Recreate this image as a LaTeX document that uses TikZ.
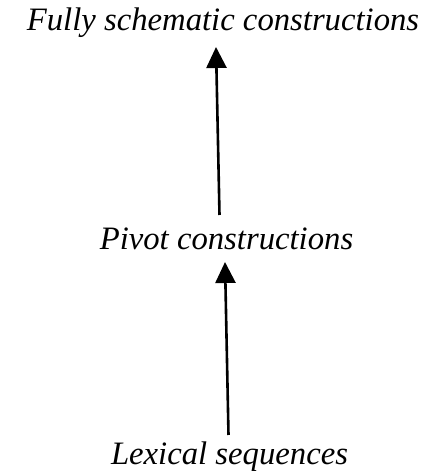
\documentclass[tikz,border=0pt]{standalone}
\usepackage{fontspec}
\setmainfont{Liberation Serif}
\usetikzlibrary{arrows.meta}
\begin{document}
\begin{tikzpicture}[x=1pt,y=1pt,
  lbl/.style={anchor=base,inner sep=0pt,font=\fontsize{32.7}{36}\selectfont\itshape},
  uparrow/.style={line width=2.6pt,-{Triangle[length=21pt,width=20pt]}}]
\useasboundingbox (0,0) rectangle (434,471);
\node[lbl] (full) at (223,440) {Fully schematic constructions};
\node[lbl] (pivot) at (226.5,221) {Pivot constructions};
\node[lbl] (lex) at (229.5,6) {Lexical sequences};
\coordinate (a1s) at (219.5,256);
\coordinate (a1e) at (216,424);
\coordinate (a2s) at (228.5,36);
\coordinate (a2e) at (225,209);
\draw[uparrow] (a1s) -- (a1e);
\draw[uparrow] (a2s) -- (a2e);
\end{tikzpicture}
\end{document}
